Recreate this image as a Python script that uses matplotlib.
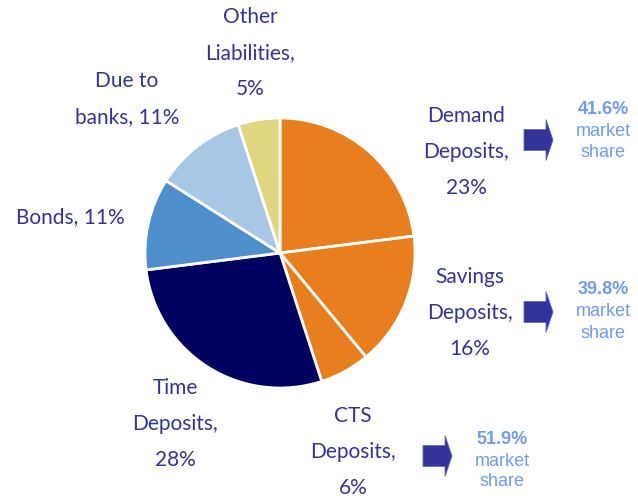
# Liability structure pie chart with market share call-outs
import matplotlib.pyplot as plt
from matplotlib.patches import Polygon

# Data
labels = ['Demand\nDeposits,\n23%', 'Savings\nDeposits,\n16%', 'CTS\nDeposits,\n6%',
          'Time\nDeposits,\n28%', 'Bonds, 11%', 'Due to\nbanks, 11%', 'Other\nLiabilities,\n5%']
shares = [23, 16, 6, 28, 11, 11, 5]
colors = ['#E87E1E', '#E87E1E', '#E87E1E', '#000060', '#4F8FCB', '#A8C6E6', '#E0D67F']
explode = [0.025, 0.025, 0.025, 0, 0, 0, 0]
market_share = ['41.6%', '39.8%', '51.9%']

# Label positions (pixel coordinates, y from top)
label_pos = [(466, 152), (470, 313), (353, 452), (175, 424), (70, 217), (127, 99), (250, 53)]
ms_pos = [(603, 131), (603, 312), (502, 461)]
arrow_pos = [(524, 140), (524, 312), (423, 456)]

text_color = '#33339A'
ms_color = '#6F9BF5'

fig = plt.figure(figsize=(6.38, 4.99), dpi=100)
ax = fig.add_axes([0, 0, 1, 1])
H = 499

ax.pie(shares, colors=colors, explode=explode, startangle=90, counterclock=False,
       center=(280, H - 253), radius=135,
       wedgeprops=dict(edgecolor='white', linewidth=2))

for lab, (x, y) in zip(labels, label_pos):
    ax.text(x, H - y, lab, ha='center', va='center', color=text_color,
            fontsize=15, family='Lato', linespacing=2.0)

for ms, (x, y) in zip(market_share, ms_pos):
    ax.text(x, H - y + 22, ms, ha='center', va='center', color=ms_color,
            fontsize=13, family='Liberation Sans', fontweight='bold')
    ax.text(x, H - y, 'market', ha='center', va='center', color=ms_color,
            fontsize=13, family='Liberation Sans')
    ax.text(x, H - y - 21, 'share', ha='center', va='center', color=ms_color,
            fontsize=13, family='Liberation Sans')


# block arrows
def block_arrow(x0, yc):
    pts = [(x0, yc - 10.5), (x0 + 22, yc - 10.5), (x0 + 22, yc - 20.5), (x0 + 29, yc),
           (x0 + 22, yc + 20.5), (x0 + 22, yc + 10.5), (x0, yc + 10.5)]
    pts = [(px, H - py) for px, py in pts]
    ax.add_patch(Polygon(pts, closed=True, facecolor='#333399', edgecolor='#6666CC', linewidth=0.6))


for x0, yc in arrow_pos:
    block_arrow(x0, yc)

ax.set_xlim(0, 638)
ax.set_ylim(0, H)
ax.set_aspect('equal')
ax.axis('off')

plt.savefig('out.png', dpi=100)
